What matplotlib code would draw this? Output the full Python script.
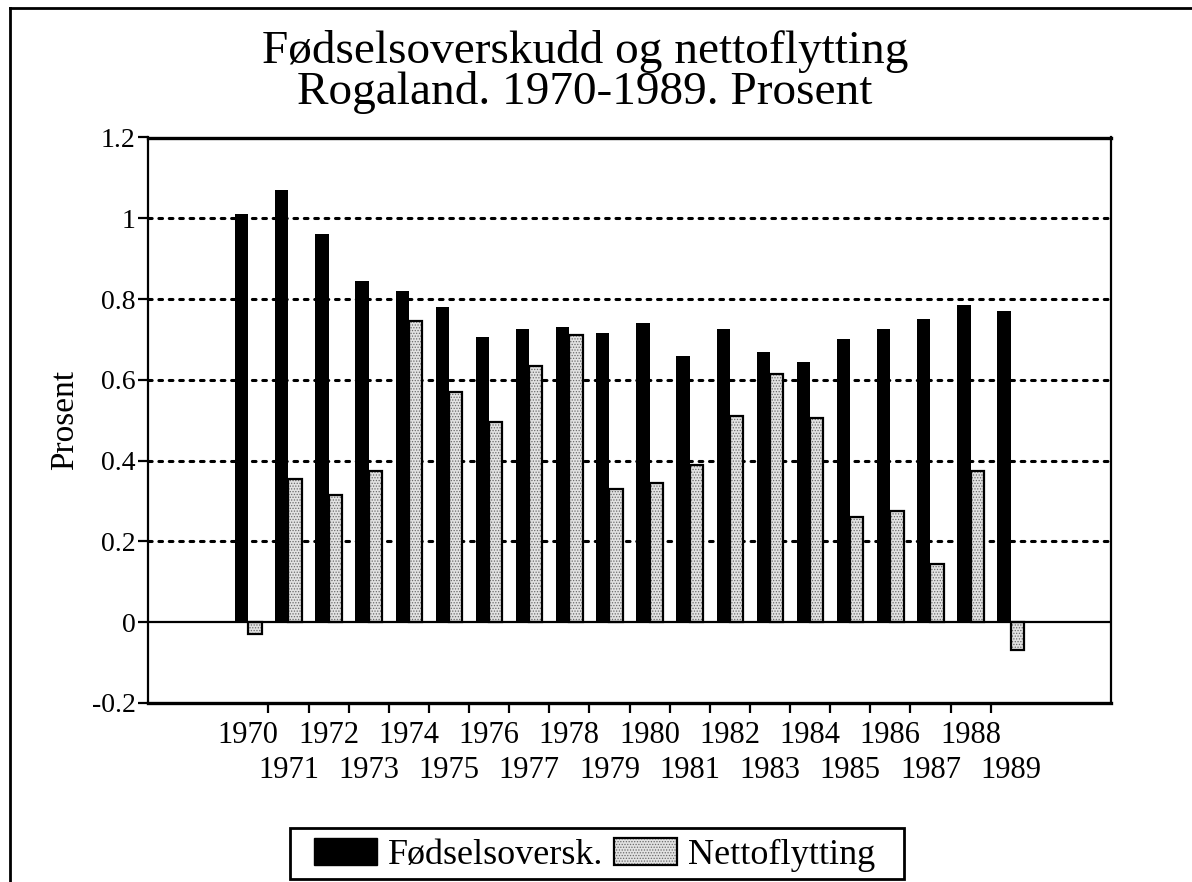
import matplotlib
matplotlib.use("Agg")
import matplotlib.pyplot as plt
from matplotlib.patches import Patch, Rectangle
from matplotlib.lines import Line2D
from matplotlib.legend_handler import HandlerTuple
import numpy as np

# data (prosent)
years = list(range(1970, 1990))
fodselsoverskudd = [1.01, 1.07, 0.96, 0.845, 0.82, 0.78, 0.705, 0.725, 0.73, 0.715,
                    0.74, 0.66, 0.725, 0.67, 0.645, 0.70, 0.725, 0.75, 0.785, 0.77]
nettoflytting = [-0.03, 0.355, 0.315, 0.375, 0.745, 0.57, 0.495, 0.635, 0.71, 0.33,
                 0.345, 0.39, 0.51, 0.615, 0.505, 0.26, 0.275, 0.145, 0.375, -0.07]
y_ticks = [-0.2, 0, 0.2, 0.4, 0.6, 0.8, 1.0, 1.2]
y_ticklabels = ["-0.2", "0", "0.2", "0.4", "0.6", "0.8", "1", "1.2"]
legend_labels = ["Fødselsoversk.", "Nettoflytting"]
title_lines = ["Fødselsoverskudd og nettoflytting", "Rogaland. 1970-1989. Prosent"]

plt.rcParams["font.family"] = ["Liberation Serif", "DejaVu Serif"]
plt.rcParams["hatch.linewidth"] = 0.6

W, H = 1192, 882
fig = plt.figure(figsize=(W / 100, H / 100), dpi=100)
ax = fig.add_axes([148 / W, 1 - 703 / H, (1111 - 148) / W, (703 - 137.5) / H])

x = np.arange(len(years))
bw = 0.33
ax.bar(x - bw / 2, fodselsoverskudd, bw, color="black", zorder=3)
ax.bar(x + bw / 2, nettoflytting, bw, facecolor="#e2e2e2", edgecolor="#6a6a6a",
       hatch="......", lw=0, zorder=3)
ax.bar(x + bw / 2, nettoflytting, bw, facecolor="none", edgecolor="black", lw=1.6, zorder=4)

# dotted grid, solid zero line
for v in y_ticks:
    if 0 < v < 1.2:
        ax.axhline(v, color="black", lw=2.2, ls=(0, (1.2, 2.2)),
                   dash_capstyle="round", zorder=1)
ax.axhline(0, color="black", lw=1.6, zorder=5)

ax.set_xlim(-2.5, 21.5)
ax.set_ylim(-0.2, 1.2)
ax.set_yticks(y_ticks, y_ticklabels)
# ticks sit on the category boundaries, year labels under the bar groups
ax.set_xticks(x[:-1] + 0.5)
ax.set_xticklabels([])
ax.tick_params(axis="both", which="major", direction="out", length=7, width=1.6,
               labelsize=20, pad=2)
for i, yr in enumerate(years):
    dy = 13 if i % 2 == 0 else 38
    ax.annotate(str(yr), xy=(x[i], 0), xycoords=("data", "axes fraction"),
                xytext=(0, -dy), textcoords="offset points",
                ha="center", va="top", fontsize=22)

ax.spines["left"].set_linewidth(1.6)
ax.spines["right"].set_linewidth(1.6)
ax.spines["top"].set_linewidth(2.4)
ax.spines["bottom"].set_linewidth(2.4)

fig.text(65 / W, 1 - 420 / H, "Prosent", rotation=90, ha="center", va="center", fontsize=24)
fig.text(585 / W, 1 - 30 / H, "\n".join(title_lines), ha="center", va="top",
         fontsize=34, linespacing=0.95)

# outer frame of the page (cut off right and bottom)
fig.add_artist(Line2D([10 / W, 10 / W], [0, 1 - 8 / H], transform=fig.transFigure,
                      color="black", lw=2))
fig.add_artist(Line2D([10 / W, 1], [1 - 8 / H, 1 - 8 / H], transform=fig.transFigure,
                      color="black", lw=2))

h1 = Patch(facecolor="black", edgecolor="black")
h2 = (Patch(facecolor="#e2e2e2", edgecolor="#6a6a6a", hatch="......", lw=0),
      Patch(facecolor="none", edgecolor="black", lw=1.6))
fig.legend([h1, h2], legend_labels, loc="upper left",
           bbox_to_anchor=(314 / W, 1 - 838 / H), borderaxespad=0, borderpad=0, ncol=2,
           fontsize=26, frameon=False, handlelength=1.75, handleheight=0.78,
           handletextpad=0.3, columnspacing=0.3,
           handler_map={tuple: HandlerTuple(ndivide=1, pad=0)})
# legend box is wider than its content in the original
fig.add_artist(Rectangle((290 / W, 1 - 879 / H), (904 - 290) / W, 51 / H,
                         transform=fig.transFigure, facecolor="none",
                         edgecolor="black", lw=2))

fig.savefig("out.png", dpi=100)
